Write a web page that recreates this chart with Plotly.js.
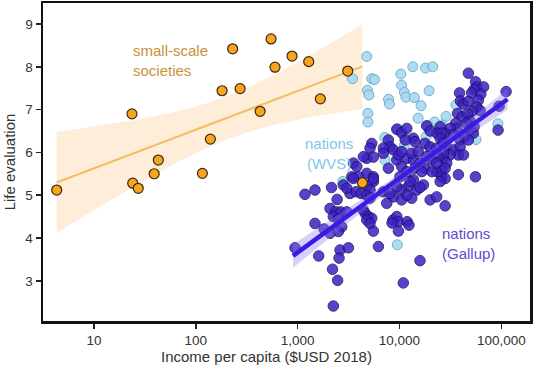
<!DOCTYPE html>
<html>
<head>
<meta charset="utf-8">
<script src="https://cdn.plot.ly/plotly-3.0.1.min.js"></script>
<style>html,body{margin:0;padding:0;background:#fff}#chart{width:540px;height:370px}</style>
</head>
<body>
<div id="chart"></div>
<script>
// ---- data ----
const smallIncome = [4.3, 23.6, 24, 27.2, 39, 42.8, 116, 139, 181, 230, 272, 428, 548, 599, 881, 1285, 1671, 3105, 4325];
const smallLife   = [5.12, 6.90, 5.28, 5.16, 5.50, 5.82, 5.51, 6.31, 7.44, 8.42, 7.49, 6.96, 8.65, 7.99, 8.25, 8.12, 7.25, 7.90, 5.29];

const wvsIncome = [4775, 3459, 5346, 5689, 4842, 5012, 4898, 4898, 13520, 18030, 21230, 10300, 10490, 11170, 11560, 14000, 19540, 7816, 7962, 16290, 22130, 28710, 25940, 9616, 11170, 11170, 7178, 18240, 56490, 92470, 4667, 2773, 9528, 15240, 35970, 20000, 7228, 19100];
const wvsLife   = [8.24, 7.72, 7.72, 7.70, 7.45, 7.34, 6.91, 6.71, 8.00, 7.97, 8.00, 7.83, 7.57, 7.40, 7.29, 7.28, 7.44, 7.24, 7.13, 7.09, 6.71, 6.84, 6.64, 6.55, 6.37, 6.16, 6.35, 6.37, 6.30, 6.67, 5.44, 5.32, 3.84, 6.80, 7.11, 6.06, 5.82, 6.62];

const gallupIncome = [47500, 55900, 57400, 67000, 54100, 51100, 62900, 59600, 38900, 39700, 42200, 47200, 57400, 61900, 51700, 111500, 95200, 93000, 37200, 41200, 46700, 49400, 45800, 35600, 36600, 31400, 28100, 27000, 33900, 39400, 44100, 49400, 53200, 54100, 29100, 33900, 39400, 37900, 42500, 31400, 27000, 26000, 29100, 37900, 55700, 47500, 25100, 23200, 18500, 20000, 26000, 25100, 17800, 20000, 23200, 27000, 27000, 9410, 10500, 11800, 13700, 11400, 14200, 5340, 5140, 7780, 8080, 6950, 8710, 4770, 5540, 7780, 9410, 11800, 10500, 13700, 15900, 18500, 14200, 17800, 20800, 24100, 11800, 10100, 23200, 26000, 4770, 5540, 4420, 3400, 3950, 6950, 3530, 3810, 5540, 9760, 10500, 13200, 15300, 16600, 20800, 23200, 28100, 28100, 25100, 13700, 12200, 10500, 14800, 17200, 8710, 7500, 10500, 13200, 20000, 23200, 28100, 6950, 8080, 9410, 12700, 15900, 11800, 1180, 1480, 2150, 2440, 3270, 3750, 4200, 4770, 5140, 4770, 5140, 5540, 3530, 2810, 3040, 2080, 2360, 2640, 3040, 2240, 2510, 4420, 4590, 4950, 5340, 4770, 5140, 1480, 1820, 2080, 2710, 2510, 5540, 8650, 9410, 9760, 8460, 11900, 12400, 9760, 6210, 943, 1610, 2610, 3150, 2550, 2200, 2470, 2240, 15900, 10900];
const gallupLife   = [7.85, 7.65, 7.53, 7.53, 7.47, 7.39, 7.36, 7.22, 7.39, 7.20, 7.13, 7.19, 7.06, 6.98, 6.96, 7.42, 7.08, 6.52, 6.91, 6.83, 6.90, 6.73, 6.68, 6.68, 6.56, 6.56, 6.45, 6.29, 6.41, 6.29, 6.37, 6.52, 6.45, 6.60, 6.13, 6.06, 6.13, 5.94, 5.94, 5.94, 5.86, 5.59, 5.75, 5.48, 5.43, 6.29, 6.60, 6.45, 6.62, 6.50, 6.45, 6.33, 6.21, 6.13, 6.10, 6.21, 5.98, 6.54, 6.46, 6.56, 6.33, 6.29, 6.25, 6.21, 6.10, 6.29, 6.13, 6.10, 6.06, 5.86, 5.89, 5.63, 5.82, 5.86, 5.67, 5.82, 5.75, 5.90, 5.63, 5.63, 5.82, 5.90, 5.55, 5.43, 5.55, 5.43, 5.51, 5.43, 5.90, 5.43, 5.43, 5.98, 5.75, 5.67, 5.32, 5.94, 6.02, 5.98, 6.02, 5.55, 5.55, 5.75, 5.63, 5.39, 5.32, 5.36, 5.20, 5.12, 5.12, 5.24, 4.96, 4.81, 4.89, 4.93, 4.89, 4.96, 4.75, 5.08, 5.04, 5.20, 5.32, 5.18, 5.00, 5.02, 5.12, 5.18, 4.90, 5.04, 5.08, 5.04, 5.22, 5.12, 5.00, 4.93, 5.38, 5.39, 5.24, 5.16, 4.69, 4.61, 4.61, 4.61, 4.50, 4.44, 4.65, 4.58, 4.50, 4.46, 4.42, 4.34, 4.34, 4.21, 4.11, 4.26, 4.15, 4.16, 4.42, 4.50, 4.38, 4.35, 4.38, 4.30, 4.16, 3.80, 3.77, 3.58, 3.72, 3.77, 3.53, 3.27, 3.01, 2.41, 3.47, 2.95];

// Gallup fitted line as drawn in the reference (end points)
const gallupFitIncome = [900, 115000];
const gallupFitLife   = [3.58, 7.24];

const xTickVals = [10, 100, 1000, 10000, 100000];
const xTickText = ['10', '100', '1,000', '10,000', '100,000'];
const yTickVals = [3, 4, 5, 6, 7, 8, 9];

// ---- linear fit in log10(income) with 95% confidence band ----
function fit(xs, ys, tval, lineX, lineY) {
  const lx = xs.map(v => Math.log10(v));
  const n = lx.length;
  const mx = lx.reduce((a, b) => a + b, 0) / n;
  const my = ys.reduce((a, b) => a + b, 0) / n;
  let sxx = 0, sxy = 0;
  for (let i = 0; i < n; i++) { sxx += (lx[i] - mx) ** 2; sxy += (lx[i] - mx) * (ys[i] - my); }
  let b = sxy / sxx, a = my - b * mx;
  let lo = Math.min(...lx), hi = Math.max(...lx);
  if (lineX) {  // use the line
    const l0 = Math.log10(lineX[0]), l1 = Math.log10(lineX[1]);
    b = (lineY[1] - lineY[0]) / (l1 - l0); a = lineY[0] - b * l0; lo = l0; hi = l1;
  }
  let sse = 0;
  for (let i = 0; i < n; i++) sse += (ys[i] - (a + b * lx[i])) ** 2;
  const s = Math.sqrt(sse / (n - 2));
  const X = [], Y = [], U = [], L = [];
  const steps = 60;
  for (let k = 0; k <= steps; k++) {
    const x = lo + (hi - lo) * k / steps;
    const yhat = a + b * x;
    const se = s * Math.sqrt(1 / n + (x - mx) ** 2 / sxx);
    X.push(Math.pow(10, x)); Y.push(yhat); U.push(yhat + tval * se); L.push(yhat - tval * se);
  }
  return {X, Y, U, L};
}
const fs = fit(smallIncome, smallLife, 2.110);
const fg = fit(gallupIncome, gallupLife, 1.974, gallupFitIncome, gallupFitLife);

function band(f, color) {
  return {x: f.X.concat(f.X.slice().reverse()), y: f.U.concat(f.L.slice().reverse()),
    type: 'scatter', mode: 'lines', fill: 'toself', fillcolor: color, line: {width: 0}, hoverinfo: 'skip'};
}

const traces = [
  band(fs, 'rgba(252,223,186,0.55)'),
  {x: fs.X, y: fs.Y, type: 'scatter', mode: 'lines', line: {color: '#F4BE62', width: 2}},
  {x: wvsIncome, y: wvsLife, type: 'scatter', mode: 'markers', name: 'nations (WVS)',
   marker: {size: 10, color: '#A8DAF3', opacity: 0.92, line: {color: '#6FA6C4', width: 1}}},
  {x: gallupIncome, y: gallupLife, type: 'scatter', mode: 'markers', name: 'nations (Gallup)',
   marker: {size: 10.5, color: '#3C22C2', opacity: 0.85, line: {color: '#1C0F6A', width: 1}}},
  band(fg, 'rgba(140,120,235,0.35)'),
  {x: fg.X, y: fg.Y, type: 'scatter', mode: 'lines', line: {color: '#3A1BE3', width: 4.5}},
  {x: smallIncome, y: smallLife, type: 'scatter', mode: 'markers', name: 'small-scale societies',
   marker: {size: 10, color: '#F7A41F', line: {color: '#3B2A12', width: 1.2}}}
];

const layout = {
  width: 540, height: 370,
  margin: {l: 43, r: 10, t: 3, b: 49},
  paper_bgcolor: '#fff', plot_bgcolor: '#fff',
  showlegend: false,
  font: {family: 'Liberation Sans, Arial, sans-serif', color: '#333', size: 13.5},
  xaxis: {
    type: 'log', range: [0.499, 5.282], automargin: false,
    tickmode: 'array', tickvals: xTickVals, ticktext: xTickText,
    ticks: 'outside', ticklen: 5, tickwidth: 1.5, tickcolor: '#222',
    showline: true, linecolor: '#111', linewidth: 2.5, mirror: true,
    showgrid: false, zeroline: false, tickfont: {size: 13.5, color: '#333'}
  },
  yaxis: {
    range: [2.06, 9.49], automargin: false,
    tickmode: 'array', tickvals: yTickVals,
    ticks: 'outside', ticklen: 5, tickwidth: 1.5, tickcolor: '#222',
    showline: true, linecolor: '#111', linewidth: 2.5, mirror: true,
    showgrid: false, zeroline: false, tickfont: {size: 13.5, color: '#333'},
    title: {text: 'Life evaluation', font: {size: 15, color: '#333'}, standoff: 6}
  },
  annotations: [
    {xref: 'paper', yref: 'paper', x: 0.459, y: -0.112, xanchor: 'center', yanchor: 'middle', showarrow: false,
     text: 'Income per capita ($USD 2018)', font: {size: 15, color: '#333'}},
    {xref: 'paper', yref: 'paper', x: 0.1807, y: 0.82, xanchor: 'left', yanchor: 'middle', align: 'left', showarrow: false,
     text: 'small-scale<br>societies', font: {size: 15, color: '#C8913A'}},
    {xref: 'paper', yref: 'paper', x: 0.587, y: 0.527, xanchor: 'center', yanchor: 'middle', align: 'center', showarrow: false,
     text: 'nations<br>(WVS)', font: {size: 15, color: '#7FC6E8'}},
    {xref: 'paper', yref: 'paper', x: 0.815, y: 0.244, xanchor: 'left', yanchor: 'middle', align: 'left', showarrow: false,
     text: 'nations<br>(Gallup)', font: {size: 15, color: '#6548CF'}}
  ]
};

Plotly.newPlot('chart', traces, layout, {displayModeBar: false, staticPlot: true});
</script>
</body>
</html>
